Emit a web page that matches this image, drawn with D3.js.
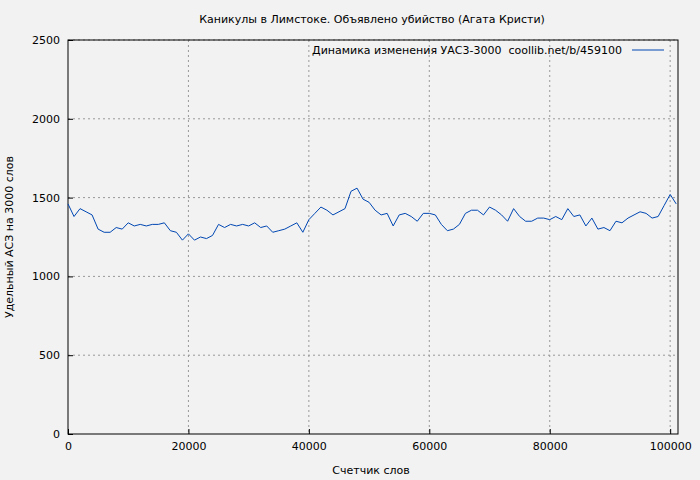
<!DOCTYPE html><html><head><meta charset="utf-8"><script src="https://cdn.jsdelivr.net/npm/d3@7"></script>
<style>body{margin:0;background:#f2f2f2}text{font-family:"DejaVu Sans",sans-serif;font-size:11px;fill:#000;white-space:pre}</style></head><body><svg width="700" height="480"></svg>
<script>
const xStep=1000;
const values=[1460,1380,1430,1410,1390,1300,1280,1280,1310,1300,1340,1320,1330,1320,1330,1330,1340,1290,1280,1230,1270,1230,1250,1240,1260,1330,1310,1330,1320,1330,1320,1340,1310,1320,1280,1290,1300,1320,1340,1280,1360,1400,1440,1420,1390,1410,1430,1540,1560,1490,1470,1420,1390,1400,1320,1390,1400,1380,1350,1400,1400,1390,1330,1290,1300,1330,1400,1420,1420,1390,1440,1420,1390,1350,1430,1380,1350,1350,1370,1370,1360,1380,1360,1430,1380,1390,1320,1370,1300,1310,1290,1350,1340,1370,1390,1410,1400,1370,1380,1450,1520,1460];
const xTicks=[0,20000,40000,60000,80000,100000];
const yTicks=[0,500,1000,1500,2000,2500];
const title="Каникулы в Лимстоке. Объявлено убийство (Агата Кристи)";
const legend="Динамика изменения УАС3-3000  coollib.net/b/459100";
const svg=d3.select("svg");
const L=68,R=678,T=40,B=434;
const x=d3.scaleLinear().domain([0,101300]).range([L,R]);
const y=d3.scaleLinear().domain([0,2500]).range([B,T]);
const g=svg.append("g");
g.selectAll(".gx").data(xTicks.slice(1)).join("line").attr("x1",d=>x(d)).attr("x2",d=>x(d)).attr("y1",T).attr("y2",B).attr("stroke","#999").attr("stroke-dasharray","2,3");
g.selectAll(".gy").data(yTicks.slice(1)).join("line").attr("x1",L).attr("x2",R).attr("y1",d=>y(d)).attr("y2",d=>y(d)).attr("stroke","#999").attr("stroke-dasharray","2,3");
svg.append("rect").attr("x",L).attr("y",T).attr("width",R-L).attr("height",B-T).attr("fill","none").attr("stroke","#000");
svg.append("g").attr("transform",`translate(0,${B})`).call(d3.axisBottom(x).tickValues(xTicks).tickFormat(d3.format("d")).tickSize(-5).tickPadding(8)).call(a=>a.select(".domain").remove()).selectAll("text").style("font-size","11px").style("font-family","DejaVu Sans");
svg.append("g").attr("transform",`translate(${L},0)`).call(d3.axisLeft(y).tickValues(yTicks).tickFormat(d3.format("d")).tickSize(-5).tickPadding(8)).call(a=>a.select(".domain").remove()).selectAll("text").style("font-size","11px").style("font-family","DejaVu Sans");
svg.append("path").datum(values).attr("fill","none").attr("stroke","#0047b3").attr("stroke-width",1).attr("d",d3.line().x((d,i)=>x(i*xStep)).y(d=>y(d)));
svg.append("text").attr("x",372).attr("y",23).attr("text-anchor","middle").text(title);
svg.append("text").attr("x",371).attr("y",474).attr("text-anchor","middle").text("Счетчик слов");
svg.append("text").attr("transform","translate(13,237) rotate(-90)").attr("text-anchor","middle").text("Удельный АСЗ на 3000 слов");
svg.append("text").attr("x",622).attr("y",54).attr("text-anchor","end").text(legend);
svg.append("line").attr("x1",632).attr("x2",664).attr("y1",50).attr("y2",50).attr("stroke","#0047b3");
</script></body></html>
